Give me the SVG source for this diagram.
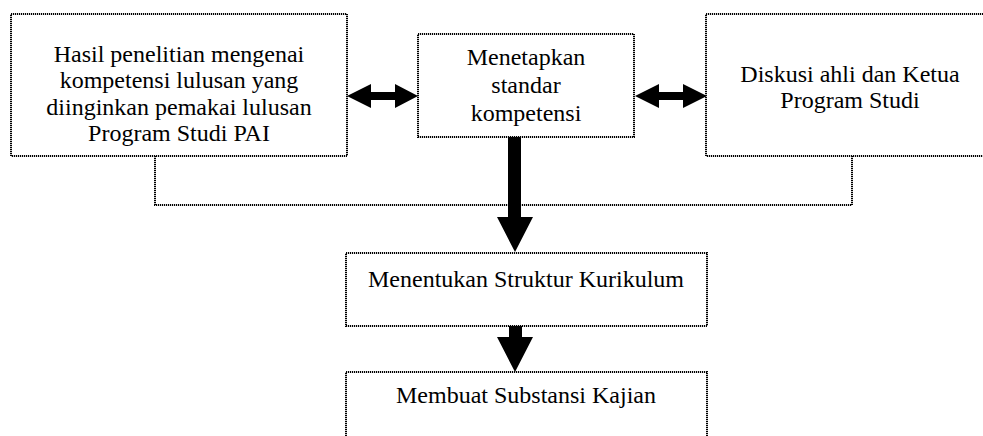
<svg xmlns="http://www.w3.org/2000/svg" width="983" height="436" viewBox="0 0 983 436">
<style>
.box{fill:#fff;stroke:#000;stroke-width:2;stroke-dasharray:1.2 0.8}
.line{fill:none;stroke:#000;stroke-width:2;stroke-dasharray:1.2 0.8}
text{font-family:"Liberation Serif","Times New Roman",serif;font-size:24px;fill:#000;text-anchor:middle}
.arr{fill:#000;stroke:none}
</style>
<rect width="983" height="436" fill="#fff"/>
<g id="connectors">
<path class="line" d="M155,156 V205 H852 V156"/>
<polygon class="arr" points="347,96 371,84 371,92 395,92 395,84 418,96 395,108 395,100 371,100 371,108"/>
<polygon class="arr" points="635,96 659,84 659,92 683,92 683,84 707,96 683,108 683,100 659,100 659,108"/>
<polygon class="arr" points="508,137 521,137 521,217 533,217 515,252 497,217 508,217"/>
<polygon class="arr" points="509,326 522,326 522,337 533,337 515,372 497,337 509,337"/>
</g>
<g id="node-hasil">
<rect class="box" x="11" y="14" width="336" height="142"/>
<text x="179" y="62">Hasil penelitian mengenai</text>
<text x="179" y="88">kompetensi lulusan yang</text>
<text x="179" y="115">diinginkan pemakai lulusan</text>
<text x="179" y="141">Program Studi PAI</text>
</g>
<g id="node-menetapkan">
<rect class="box" x="418" y="34" width="216" height="103"/>
<text x="526" y="65">Menetapkan</text>
<text x="526" y="93">standar</text>
<text x="526" y="121">kompetensi</text>
</g>
<g id="node-diskusi">
<rect class="box" x="706" y="14" width="290" height="142"/>
<text x="850" y="82">Diskusi ahli dan Ketua</text>
<text x="850" y="108">Program Studi</text>
</g>
<g id="node-struktur">
<rect class="box" x="346" y="253" width="361" height="73"/>
<text x="526" y="287">Menentukan Struktur Kurikulum</text>
</g>
<g id="node-substansi">
<rect class="box" x="346" y="372" width="361" height="80"/>
<text x="526" y="403">Membuat Substansi Kajian</text>
</g>
</svg>
